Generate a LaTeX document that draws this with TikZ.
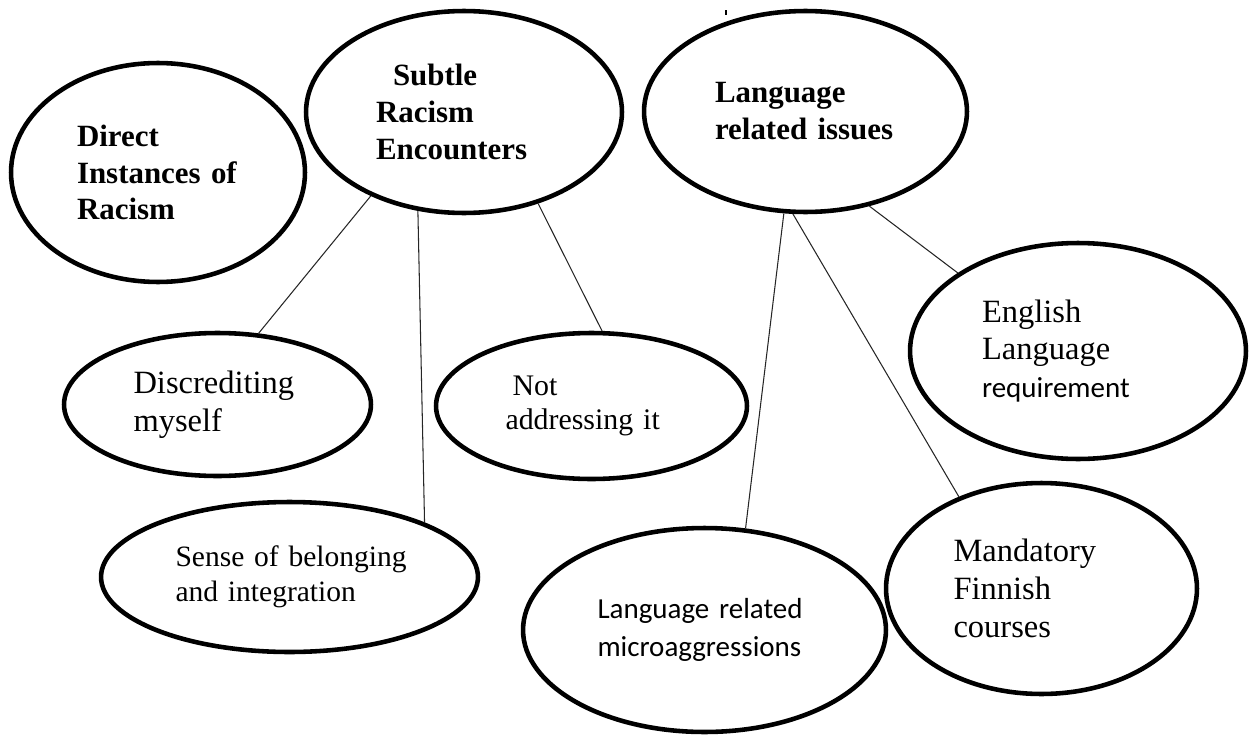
\documentclass[tikz,border=0pt]{standalone}
\usepackage{fontspec}
\setmainfont{Liberation Serif}
\newfontfamily\calibri{Carlito}
\usetikzlibrary{shapes.geometric}

\begin{document}
\begin{tikzpicture}[x=0.02cm, y=-0.02cm,
                    theme/.style={draw, ellipse, line width=2.6pt, inner sep=0pt, align=left,
                                  font=\bfseries\fontsize{17.6}{21}\selectfont},
                    code/.style={draw, ellipse, line width=2.6pt, inner sep=0pt, align=left,
                                 font=\fontsize{18.5}{21.5}\selectfont},
                    link/.style={draw=black!85, line width=0.6pt}]
    \useasboundingbox (0,0) rectangle (1251,737);

    % themes
    \node[theme, minimum width=5.88cm, minimum height=4.38cm, text width=3.24cm] (direct) at (158,172.5) {Direct\\\mbox{Instances of}\\Racism};
    \node[theme, minimum width=6.32cm, minimum height=4.04cm, text width=3.52cm] (subtle) at (464,112) {\hspace*{0.34cm}Subtle\\Racism\\Encounters};
    \node[theme, minimum width=6.46cm, minimum height=4.02cm, text width=3.62cm] (lang) at (805.5,111.5) {Language\\\mbox{related issues}};

    % codes
    \node[code, minimum width=6.14cm, minimum height=2.86cm, text width=3.36cm] (discred) at (217.5,404.5) {Discrediting\\myself};
    \node[code, minimum width=6.22cm, minimum height=2.92cm, text width=3.44cm,
          font=\fontsize{17}{19}\selectfont] (notaddr) at (591.5,406) {\hspace*{0.14cm}Not\\\mbox{addressing it}};
    \node[code, minimum width=7.54cm, minimum height=3.0cm, text width=4.56cm,
          font=\fontsize{16.8}{20}\selectfont] (belong) at (289.5,577) {\mbox{Sense of belonging}\\\mbox{and integration}};
    \node[code, minimum width=6.72cm, minimum height=4.32cm, text width=3.84cm] (english) at (1078,351) {English\\Language\\{\calibri\fontsize{16.5}{21.5}\selectfont requirement}};
    \node[code, minimum width=6.22cm, minimum height=4.22cm, text width=3.52cm] (finnish) at (1041.5,588.5) {Mandatory\\Finnish\\courses};
    \node[code, minimum width=7.26cm, minimum height=4.08cm, text width=4.28cm,
          font=\calibri\fontsize{16.5}{21.6}\selectfont] (micro) at (704.5,630) {\mbox{Language related}\\microaggressions};

    \draw[link] (subtle.222) -- (discred.60);
    \draw[link] (subtle.245) -- (belong.22);
    \draw[link] (subtle.309) -- (notaddr.82);
    \draw[link] (lang.258) -- (micro.68);
    \draw[link] (lang.263) -- (finnish.132);
    \draw[link] (lang.304) -- (english.147);

    \draw[line width=0.8pt] (726,10) -- (726,15);
\end{tikzpicture}
\end{document}
